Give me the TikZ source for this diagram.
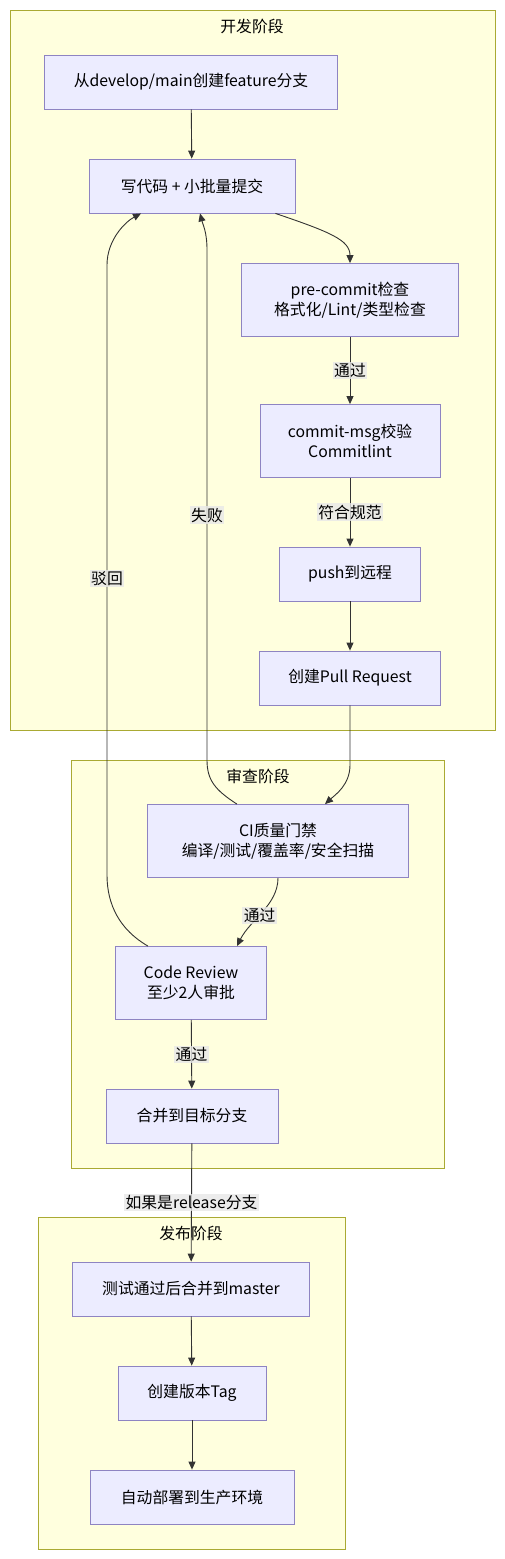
\documentclass[tikz,border=0pt]{standalone}
\usepackage{fontspec}
\setmainfont{Noto Sans CJK SC}
\usetikzlibrary{arrows.meta}
\definecolor{boxfill}{HTML}{ECECFF}
\definecolor{boxline}{HTML}{8E84C2}
\definecolor{stagefill}{HTML}{FFFFDE}
\definecolor{stageline}{HTML}{AAAA33}
\definecolor{flowline}{HTML}{333333}
\definecolor{tagfill}{HTML}{E8E8E8}
\tikzset{
  stagebox/.style={draw=stageline, fill=stagefill, line width=0.8pt},
  stepbox/.style={draw=boxline, fill=boxfill, line width=0.8pt, align=center,
    font=\fontsize{15.8}{20}\selectfont, inner sep=0pt},
  flow/.style={draw=flowline, line width=0.9pt, -{Triangle[length=8pt,width=7pt]}},
  tag/.style={fill=tagfill, fill opacity=0.8, text opacity=1, inner sep=1.5pt,
    font=\fontsize{15.8}{18}\selectfont},
  stagetitle/.style={font=\fontsize{15.8}{18}\selectfont}
}
\begin{document}
\begin{tikzpicture}[x=1pt,y=-1pt]
  \useasboundingbox[fill=white] (0,0) rectangle (504,1559);

  % stages
  \draw[stagebox] (10,10) rectangle (495,730);
  \draw[stagebox] (71,760) rectangle (444,1168);
  \draw[stagebox] (38,1217) rectangle (345,1549);
  \node[stagetitle] (devtitle) at (252,26) {开发阶段};
  \node[stagetitle] (revtitle) at (258,776) {审查阶段};
  \node[stagetitle] (reltitle) at (191,1233) {发布阶段};

  % dev stage
  \node[stepbox, minimum width=293, minimum height=54] (branch) at (191,82) {从develop/main创建feature分支};
  \node[stepbox, minimum width=206, minimum height=54] (code) at (192,186) {写代码 + 小批量提交};
  \node[stepbox, minimum width=217, minimum height=73] (precommit) at (350,300) {pre-commit检查\\格式化/Lint/类型检查};
  \node[stepbox, minimum width=180, minimum height=73] (commitmsg) at (350,441) {commit-msg校验\\Commitlint};
  \node[stepbox, minimum width=141, minimum height=54] (push) at (350,574) {push到远程};
  \node[stepbox, minimum width=181, minimum height=54] (pr) at (350,678) {创建Pull Request};

  % review stage
  \node[stepbox, minimum width=261, minimum height=73] (ci) at (278,841) {CI质量门禁\\编译/测试/覆盖率/安全扫描};
  \node[stepbox, minimum width=151, minimum height=73] (review) at (191,983) {Code Review\\至少2人审批};
  \node[stepbox, minimum width=172, minimum height=54] (merge) at (192,1116) {合并到目标分支};

  % release stage
  \node[stepbox, minimum width=237, minimum height=54] (master) at (191,1289) {测试通过后合并到master};
  \node[stepbox, minimum width=148, minimum height=54] (vtag) at (192,1393) {创建版本Tag};
  \node[stepbox, minimum width=204, minimum height=54] (deploy) at (192,1497) {自动部署到生产环境};

  % connectors
  \draw[flow] (branch) -- (code);
  \draw[flow] ([xshift=-20pt]code.south east) .. controls (330,232) and (350,240) .. (precommit.north);
  \draw[flow] (precommit) -- node[tag] (pass1) {通过} (commitmsg);
  \draw[flow] (commitmsg) -- node[tag] (spec) {符合规范} (push);
  \draw[flow] (push) -- (pr);
  \draw[flow] (pr.south) -- (350,765) .. controls (350,785) and (335,795) .. ([xshift=47pt]ci.north);
  \draw[flow] ([xshift=-41pt]ci.north) .. controls (215,790) and (207,780) .. (207,760)
    -- node[tag, pos=0.48] (fail) {失败} (207,250) .. controls (207,232) and (203,225) .. ([xshift=8pt]code.south);
  \draw[flow] ([xshift=-43pt]review.north) .. controls (120,930) and (107,905) .. (107,875)
    -- node[tag, pos=0.486] (reject) {驳回} (107,265) .. controls (107,240) and (125,222) .. ([xshift=-51pt]code.south);
  \draw[flow] (ci.south) .. controls (278,905) and (250,920) .. node[tag, pos=0.55] (pass2) {通过} ([xshift=46pt]review.north);
  \draw[flow] (review) -- node[tag] (pass3) {通过} (merge);
  \draw[flow] (merge) -- node[tag, pos=0.5] (release) {如果是release分支} (master);
  \draw[flow] (master) -- (vtag);
  \draw[flow] (vtag) -- (deploy);
\end{tikzpicture}
\end{document}
